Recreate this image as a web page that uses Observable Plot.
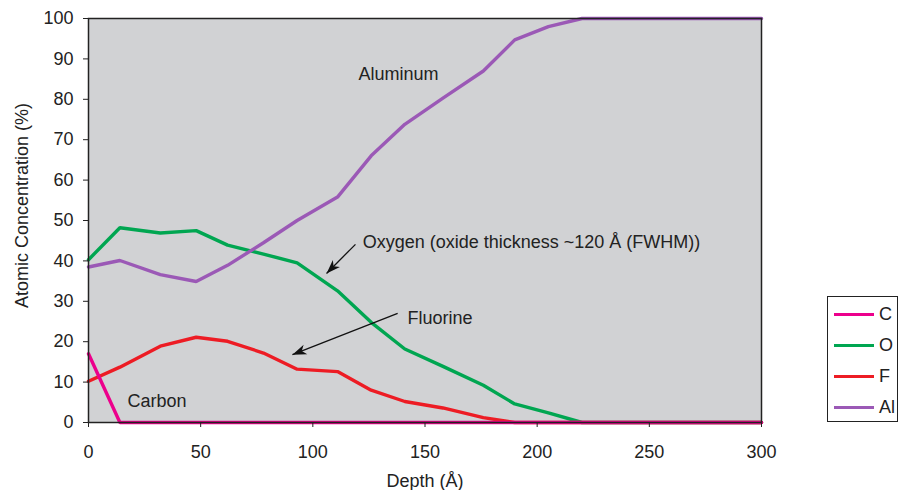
<!DOCTYPE html>
<html>
<head>
<meta charset="utf-8">
<script src="https://cdn.jsdelivr.net/npm/d3@7"></script>
<script src="https://cdn.jsdelivr.net/npm/@observablehq/plot@0.6"></script>
<style>
  body { margin: 0; background: #fff; }
  #wrap { position: relative; width: 900px; height: 490px; font-family: "Liberation Sans", Arial, sans-serif; }
  #legend { position: absolute; left: 827px; top: 296px; width: 71px; height: 126px; border: 1px solid #222; background: #fff; box-sizing: border-box; }
  .li { position: absolute; left: 0; height: 20px; display: flex; align-items: center; font-size: 18px; color: #222; }
  .li span.sw { display: inline-block; width: 40px; height: 3px; margin-left: 6px; margin-right: 5px; }
</style>
</head>
<body>
<div id="wrap"><div id="chart"></div><div id="legend"></div></div>
<script>
const depth    = [0, 14, 32, 48, 62, 78, 93, 111, 126, 141, 158, 176, 190, 205, 220, 300];
const carbon   = [17, 0, 0, 0, 0, 0, 0, 0, 0, 0, 0, 0, 0, 0, 0, 0];
const oxygen   = [40.3, 48.2, 46.9, 47.5, 43.9, 41.7, 39.5, 32.6, 24.8, 18.2, 13.9, 9.2, 4.6, 2.4, 0, 0];
const fluorine = [10.2, 13.7, 18.9, 21.1, 20.1, 17.2, 13.2, 12.6, 8.0, 5.2, 3.6, 1.2, 0, 0, 0, 0];
const aluminum = [38.5, 40.1, 36.6, 34.9, 38.9, 44.5, 50.0, 55.8, 66.0, 73.8, 80.3, 87.0, 94.7, 98.0, 100, 100];

const seriesNames  = ["C", "O", "F", "Al"];
const seriesValues = [carbon, oxygen, fluorine, aluminum];
const seriesColors = ["#ec008c", "#00a651", "#ed1c24", "#9b59b6"];
const drawOrder = [1, 2, 3, 0]; // carbon on top

const xTicks = [0, 50, 100, 150, 200, 250, 300];
const yTicks = [0, 10, 20, 30, 40, 50, 60, 70, 80, 90, 100];
const xTitle = "Depth (Å)";
const yTitle = "Atomic Concentration (%)";

const labelTexts = ["Aluminum", "Oxygen (oxide thickness ~120 Å (FWHM))", "Fluorine", "Carbon"];
const labelX = [138.2, 122.2, 142.2, 17.4];
const labelY = [86.1, 44.6, 25.7, 5.2];
const labelAnchor = ["middle", "start", "start", "start"];

const arrowX1 = [119, 137.8];
const arrowY1 = [44.1, 27.0];
const arrowX2 = [106.1, 90.9];
const arrowY2 = [36.9, 16.8];

const rows = [];
drawOrder.forEach(si => {
  depth.forEach((d, i) => rows.push({series: seriesNames[si], depth: d, value: seriesValues[si][i]}));
});
const labels = labelTexts.map((t, i) => ({text: t, x: labelX[i], y: labelY[i], anchor: labelAnchor[i]}));
const arrows = arrowX1.map((x, i) => ({x1: x, y1: arrowY1[i], x2: arrowX2[i], y2: arrowY2[i]}));

function solidHead(color, context) {
  const doc = (context && context.document) || document;
  const ns = "http://www.w3.org/2000/svg";
  const m = doc.createElementNS(ns, "marker");
  m.setAttribute("viewBox", "-15 -6 16 12");
  m.setAttribute("markerWidth", 16);
  m.setAttribute("markerHeight", 12);
  m.setAttribute("markerUnits", "userSpaceOnUse");
  m.setAttribute("orient", "auto");
  m.setAttribute("overflow", "visible");
  const p = doc.createElementNS(ns, "path");
  p.setAttribute("d", "M0,0L-14,-5L-10,0L-14,5Z");
  p.setAttribute("fill", color);
  p.setAttribute("stroke", "none");
  m.appendChild(p);
  return m;
}

const chart = Plot.plot({
  width: 900,
  height: 490,
  marginLeft: 88,
  marginRight: 139,
  marginTop: 18,
  marginBottom: 68,
  style: {fontFamily: "'Liberation Sans', Arial, sans-serif", fontSize: "18px", color: "#222", background: "#fff", overflow: "visible"},
  x: {domain: [0, 300]},
  y: {domain: [0, 100]},
  marks: [
    Plot.frame({fill: "#d1d2d4"}),
    ...drawOrder.map(si => Plot.line(rows.filter(r => r.series === seriesNames[si]), {x: "depth", y: "value", stroke: seriesColors[si], strokeWidth: 3.4, strokeLinejoin: "miter"})),
    Plot.text(labels.filter(l => l.anchor === "middle"), {x: "x", y: "y", text: "text", textAnchor: "middle", fill: "#222", fontSize: 18}),
    Plot.text(labels.filter(l => l.anchor === "start"), {x: "x", y: "y", text: "text", textAnchor: "start", fill: "#222", fontSize: 18}),
    Plot.link(arrows, {x1: "x1", y1: "y1", x2: "x2", y2: "y2", stroke: "#111", strokeWidth: 1.3, markerEnd: solidHead}),
    Plot.frame({stroke: "#222", strokeWidth: 1.5}),
    Plot.axisX({ticks: xTicks, tickSize: 5, tickPadding: 18, tickFormat: d => String(d), label: xTitle, labelAnchor: "center", labelArrow: "none", labelOffset: 64, fontSize: 18}),
    Plot.axisY({ticks: yTicks, tickSize: 5, tickPadding: 10, tickFormat: d => String(d), label: null, fontSize: 18}),
    Plot.text([yTitle], {frameAnchor: "left", text: d => d, rotate: -90, textAnchor: "middle", lineAnchor: "middle", dx: -66, dy: -15, fontSize: 18, fill: "#222"})
  ]
});
document.getElementById("chart").appendChild(chart);

const legend = document.getElementById("legend");
seriesNames.forEach((n, i) => {
  const d = document.createElement("div");
  d.className = "li";
  d.style.top = (7 + i * 31) + "px";
  d.innerHTML = `<span class="sw" style="background:${seriesColors[i]}"></span>${n}`;
  legend.appendChild(d);
});
</script>
</body>
</html>
